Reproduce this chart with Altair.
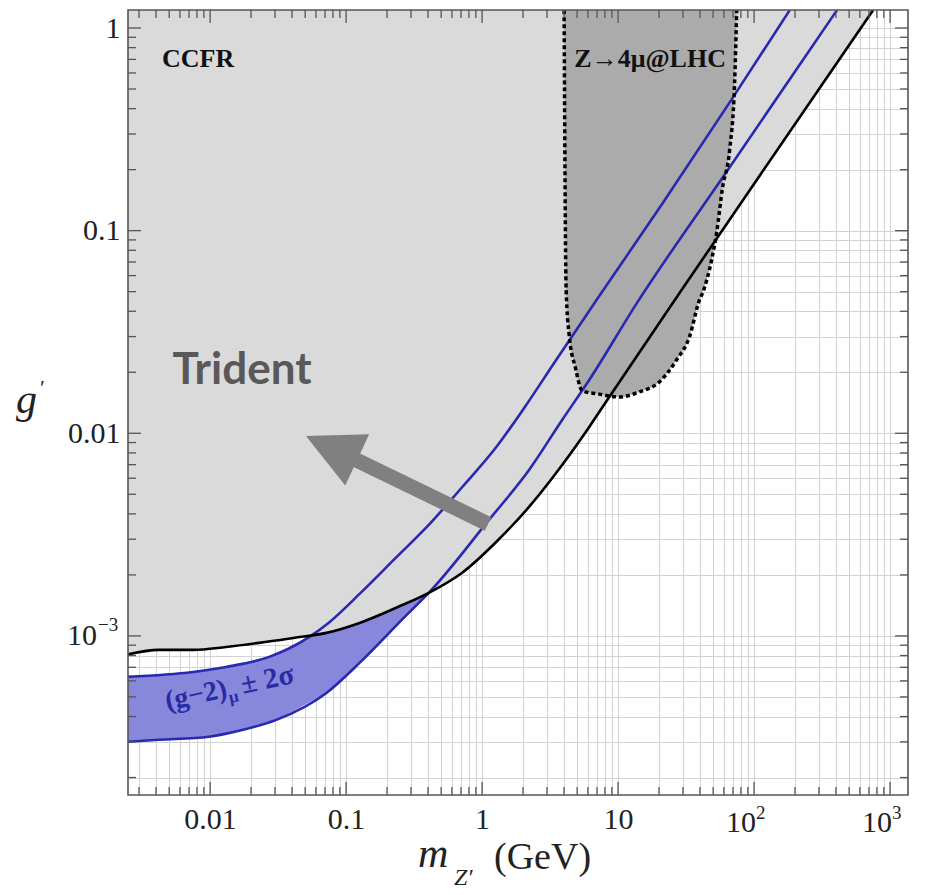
import altair as alt
import pandas as pd

W, H = 780, 785

# ---------------- axes ----------------
x_domain = [0.00249, 1355]
y_domain = [1.64e-4, 1.227]
x_major = [0.01, 0.1, 1, 10, 100, 1000]
x_major_labels = ["0.01", "0.1", "1", "10", "", ""]
y_major = [0.001, 0.01, 0.1, 1]
y_major_labels = ["", "0.01", "0.1", "1"]
# power-of-ten labels drawn as base + exponent
pow_x_mass = [100, 1000]
pow_x_exp = ["2", "3"]
pow_y_g = [0.001]
pow_y_exp = ["−3"]

# ---------------- curves ----------------
# CCFR neutrino trident bound (black)
ccfr_mass = [0.0024, 0.0042, 0.0075, 0.0131, 0.023, 0.0409, 0.0717, 0.1256, 0.2314, 0.4053,
             0.7097, 1.264, 2.214, 3.878, 6.135, 8.615, 28.3, 88.2, 270.6, 750]
ccfr_g = [8.06e-4, 8.53e-4, 8.53e-4, 8.82e-4, 9.24e-4, 9.77e-4, 1.035e-3, 1.159e-3, 1.374e-3, 1.63e-3,
          2.045e-3, 2.9e-3, 4.33e-3, 6.97e-3, 0.01074, 0.0151, 0.0492, 0.1504, 0.4511, 1.225]

# (g-2)_mu +-2 sigma band: upper and lower edges (blue)
gm2_hi_mass = [0.0024, 0.0075, 0.0131, 0.0272, 0.0537, 0.0742, 0.13, 0.2314, 0.4053, 0.7097,
               1.264, 2.034, 3.503, 7.27, 21.2, 69.6, 183]
gm2_hi_g = [6.28e-4, 6.64e-4, 7.03e-4, 7.88e-4, 9.89e-4, 1.159e-3, 1.648e-3, 2.425e-3, 3.53e-3, 5.4e-3,
            8.5e-3, 0.0133, 0.02299, 0.04755, 0.136, 0.452, 1.225]
gm2_lo_mass = [0.0024, 0.0042, 0.0098, 0.0175, 0.0307, 0.0717, 0.1256, 0.279, 0.4053, 1.123,
               2.214, 3.878, 6.135, 13.63, 62.8, 407]
gm2_lo_g = [3.0e-4, 3.07e-4, 3.18e-4, 3.44e-4, 3.85e-4, 5.23e-4, 7.36e-4, 1.27e-3, 1.63e-3, 3.735e-3,
            6.59e-3, 0.01163, 0.01832, 0.0435, 0.1953, 1.225]

# band fill, read at common masses
band_mass = [0.0024, 0.005, 0.01, 0.02, 0.03, 0.05, 0.07, 0.1, 0.15, 0.2, 0.3, 0.5, 0.7, 1.0]
band_hi = [6.28e-4, 6.5e-4, 6.84e-4, 7.52e-4, 8.14e-4, 9.66e-4, 1.126e-3, 1.398e-3, 1.815e-3, 2.2e-3,
           2.886e-3, 4.1e-3, 5.35e-3, 7.0e-3]
band_lo = [3.0e-4, 3.09e-4, 3.18e-4, 3.53e-4, 3.84e-4, 4.59e-4, 5.18e-4, 6.41e-4, 8.31e-4, 1.012e-3,
           1.334e-3, 1.933e-3, 2.54e-3, 3.4e-3]

# Z -> 4 mu @ LHC excluded region (lower boundary, dotted)
lhc_mass = [4.01, 4.15, 4.37, 4.85, 5.45, 7.27, 10.2, 14.35, 20.1, 26.9, 33.5, 39.7, 41.8, 48.7,
            53.0, 58.7, 66.1, 71.9, 74.5]
lhc_g = [1.225, 0.0509, 0.0305, 0.0211, 0.0162, 0.0156, 0.0151, 0.016, 0.0179, 0.023, 0.0299,
         0.0455, 0.0492, 0.0716, 0.0973, 0.164, 0.2496, 0.534, 1.225]

# annotations (data coordinates)
arrow_tail = [1.107, 3.57e-3]
arrow_head = [0.0782, 8.46e-3]
ccfr_label_pos = [0.00443, 0.642]
lhc_label_pos = [17.2, 0.642]
trident_label_pos = [0.0053, 0.0176]
gm2_label_mass = [0.00483, 0.01403, 0.01748]
gm2_label_g = [4.31e-4, 4.67e-4, 5.18e-4]
gm2_label_text = ["(g−2)", "μ", "± 2σ"]
gm2_label_size = [28, 17, 29]


def minors(lo, hi, kmin, kmax):
    out = []
    for k in range(kmin, kmax + 1):
        for m in range(2, 10):
            v = m * 10.0 ** k
            if lo < v < hi:
                out.append(v)
    return out


x_minor = minors(x_domain[0], x_domain[1], -3, 3)
y_minor = minors(y_domain[0], y_domain[1], -4, 0)
x_grid = sorted(x_minor + x_major)
y_grid = sorted(y_minor + y_major)


def label_expr(vals, labels):
    parts = [f"abs(datum.value / {v} - 1) < 1e-6 ? '{l}'" for v, l in zip(vals, labels)]
    return " : ".join(parts) + " : ''"


SERIF = "Liberation Serif"
LFS = 30
xscale = alt.Scale(type="log", domain=x_domain, nice=False)
yscale = alt.Scale(type="log", domain=y_domain, nice=False)
xaxis = alt.Axis(values=x_grid, labelExpr=label_expr(x_major, x_major_labels), grid=True,
                 gridColor="#d2d2d2", gridWidth=1, ticks=False, tickSize=0, domain=False,
                 labelFont=SERIF, labelFontSize=LFS, labelColor="#222", labelPadding=9,
                 labelFlush=False, labelOverlap=False, title=None)
yaxis = alt.Axis(values=y_grid, labelExpr=label_expr(y_major, y_major_labels), grid=True,
                 gridColor="#d2d2d2", gridWidth=1, ticks=False, tickSize=0, domain=False,
                 labelFont=SERIF, labelFontSize=LFS, labelColor="#222", labelPadding=8,
                 labelFlush=False, labelOverlap=False, title=None)


def X(f):
    return alt.X(f, type="quantitative", scale=xscale, axis=xaxis)


def Y(f):
    return alt.Y(f, type="quantitative", scale=yscale, axis=yaxis)


top = y_domain[1]
ccfr_df = pd.DataFrame({"mass": ccfr_mass, "g": ccfr_g, "top": [top] * len(ccfr_mass)})
hi_df = pd.DataFrame({"mass": gm2_hi_mass, "g": gm2_hi_g})
lo_df = pd.DataFrame({"mass": gm2_lo_mass, "g": gm2_lo_g})
band_df = pd.DataFrame({"mass": band_mass, "g": band_hi, "g2": band_lo})
lhc_df = pd.DataFrame({"mass": lhc_mass, "g": lhc_g, "top": [top] * len(lhc_mass)})
one = pd.DataFrame({"a": [0]})

BLUE = "#2828b0"
INTERP = "monotone"

band = alt.Chart(band_df).mark_area(color="#8787dc", opacity=1, clip=True,
                                    interpolate=INTERP).encode(
    x=X("mass"), y=Y("g"), y2="g2")
ccfr_area = alt.Chart(ccfr_df).mark_area(color="#dadada", opacity=1, clip=True,
                                         interpolate=INTERP).encode(
    x=X("mass"), y=Y("g"), y2="top")
lhc_area = alt.Chart(lhc_df).mark_area(color="#ababab", opacity=1, clip=True,
                                       interpolate=INTERP).encode(
    x=X("mass"), y=Y("g"), y2="top")
hi_line = alt.Chart(hi_df).mark_line(color=BLUE, strokeWidth=2.6, clip=True,
                                     interpolate=INTERP).encode(x=X("mass"), y=Y("g"))
lo_line = alt.Chart(lo_df).mark_line(color=BLUE, strokeWidth=2.6, clip=True,
                                     interpolate=INTERP).encode(x=X("mass"), y=Y("g"))
ccfr_line = alt.Chart(ccfr_df).mark_line(color="black", strokeWidth=2.6, clip=True,
                                         interpolate=INTERP).encode(x=X("mass"), y=Y("g"))
lhc_line = alt.Chart(lhc_df).mark_line(color="black", strokeWidth=3.5, strokeDash=[4, 3],
                                       clip=True, interpolate=INTERP).encode(
    x=X("mass"), y=Y("g"))

# inside ticks on all four sides
TC = "#555555"
xmaj_df = pd.DataFrame({"mass": x_major})
xmin_df = pd.DataFrame({"mass": x_minor})
ymaj_df = pd.DataFrame({"g": y_major})
ymin_df = pd.DataFrame({"g": y_minor})
tick_layers = []
for df, ln in [(xmaj_df, 13), (xmin_df, 8)]:
    tick_layers.append(alt.Chart(df).mark_rule(color=TC, strokeWidth=1.3).encode(
        x=X("mass"), y=alt.value(H), y2=alt.value(H - ln)))
    tick_layers.append(alt.Chart(df).mark_rule(color=TC, strokeWidth=1.3).encode(
        x=X("mass"), y=alt.value(0), y2=alt.value(ln)))
for df, ln in [(ymaj_df, 13), (ymin_df, 8)]:
    tick_layers.append(alt.Chart(df).mark_rule(color=TC, strokeWidth=1.3).encode(
        y=Y("g"), x=alt.value(0), x2=alt.value(ln)))
    tick_layers.append(alt.Chart(df).mark_rule(color=TC, strokeWidth=1.3).encode(
        y=Y("g"), x=alt.value(W), x2=alt.value(W - ln)))

frame = alt.Chart(one).mark_rect(filled=False, stroke="#555555", strokeWidth=1.6).encode(
    x=alt.value(0), x2=alt.value(W), y=alt.value(0), y2=alt.value(H))

# power-of-ten tick labels (base "10" plus raised exponent)
powx_df = pd.DataFrame({"mass": pow_x_mass, "e": pow_x_exp})
powx_base = alt.Chart(powx_df).mark_text(text="10", font=SERIF, fontSize=LFS, color="#222",
                                         align="right", baseline="alphabetic", dx=2).encode(
    x=X("mass"), y=alt.value(H + 37))
powx_exp = alt.Chart(powx_df).mark_text(font=SERIF, fontSize=19, color="#222",
                                        align="left", baseline="alphabetic", dx=2).encode(
    x=X("mass"), y=alt.value(H + 24), text="e:N")
powy_df = pd.DataFrame({"g": pow_y_g, "e": pow_y_exp})
powy_base = alt.Chart(powy_df).mark_text(text="10", font=SERIF, fontSize=LFS, color="#222",
                                         align="right", baseline="middle").encode(
    y=Y("g"), x=alt.value(-31))
powy_exp = alt.Chart(powy_df).mark_text(font=SERIF, fontSize=19, color="#222",
                                        align="left", baseline="middle").encode(
    y=Y("g"), x=alt.value(-30), yOffset=alt.value(-11), text="e:N")

# arrow
arrow_df = pd.DataFrame({"mass": [arrow_tail[0]], "g": [arrow_tail[1]],
                         "mass2": [arrow_head[0]], "g2": [arrow_head[1]]})
shaft = alt.Chart(arrow_df).mark_rule(color="#808080", strokeWidth=15).encode(
    x=X("mass"), y=Y("g"), x2="mass2", y2="g2")
head = alt.Chart(pd.DataFrame({"mass": [arrow_head[0]], "g": [arrow_head[1]]})).mark_point(
    shape="M0,-1L1,1L-1,1Z", filled=True, color="#808080", opacity=1, size=3200, angle=295,
    strokeWidth=0).encode(x=X("mass"), y=Y("g"))

# text annotations
ccfr_txt = alt.Chart(pd.DataFrame({"mass": [ccfr_label_pos[0]], "g": [ccfr_label_pos[1]]})).mark_text(
    text="CCFR", font=SERIF, fontWeight="bold", fontSize=26, color="#111", align="left",
    baseline="alphabetic").encode(x=X("mass"), y=Y("g"))
lhc_txt = alt.Chart(pd.DataFrame({"mass": [lhc_label_pos[0]], "g": [lhc_label_pos[1]]})).mark_text(
    text="Z→4μ@LHC", font=SERIF, fontWeight="bold", fontSize=26, color="#111", align="center",
    baseline="alphabetic").encode(x=X("mass"), y=Y("g"))
trident_txt = alt.Chart(pd.DataFrame({"mass": [trident_label_pos[0]], "g": [trident_label_pos[1]]})).mark_text(
    text="Trident", font="Lato", fontWeight="bold", fontSize=44, color="#595959", align="left",
    baseline="alphabetic").encode(x=X("mass"), y=Y("g"))
gm2_df = pd.DataFrame({"mass": gm2_label_mass, "g": gm2_label_g, "t": gm2_label_text,
                       "s": gm2_label_size})
gm2_txt = alt.Chart(gm2_df).mark_text(font=SERIF, fontWeight="bold", color="#2a2aa5",
                                      align="left", baseline="alphabetic", angle=348).encode(
    x=X("mass"), y=Y("g"), text="t:N", size=alt.Size("s:Q", scale=None, legend=None))

# axis titles
t_m = alt.Chart(one).mark_text(text="m", font=SERIF, fontStyle="italic", fontSize=42, color="#222",
                               align="left", baseline="alphabetic").encode(
    x=alt.value(290), y=alt.value(857))
t_z = alt.Chart(one).mark_text(text="Z′", font=SERIF, fontStyle="italic", fontSize=24, color="#222",
                               align="left", baseline="alphabetic").encode(
    x=alt.value(326), y=alt.value(875))
t_gev = alt.Chart(one).mark_text(text="(GeV)", font=SERIF, fontSize=38, color="#222",
                                 align="left", baseline="alphabetic").encode(
    x=alt.value(366), y=alt.value(859))
t_g = alt.Chart(one).mark_text(text="g", font=SERIF, fontStyle="italic", fontSize=42, color="#222",
                               align="left", baseline="alphabetic").encode(
    x=alt.value(-112), y=alt.value(403))
t_gp = alt.Chart(one).mark_text(text="′", font=SERIF, fontSize=22, color="#222",
                                align="left", baseline="alphabetic").encode(
    x=alt.value(-88), y=alt.value(385))

chart = alt.layer(
    band, ccfr_area, lhc_area, hi_line, lo_line, ccfr_line, lhc_line,
    *tick_layers, frame, powx_base, powx_exp, powy_base, powy_exp,
    shaft, head, ccfr_txt, lhc_txt, trident_txt, gm2_txt,
    t_m, t_z, t_gev, t_g, t_gp
).properties(
    width=W, height=H,
    padding={"left": 128, "top": 10, "right": 22, "bottom": 100},
    autosize=alt.AutoSizeParams(type="none"),
    background="white",
).configure_view(stroke=None)

chart.save("out.html", embed_options={"renderer": "svg", "actions": False})
